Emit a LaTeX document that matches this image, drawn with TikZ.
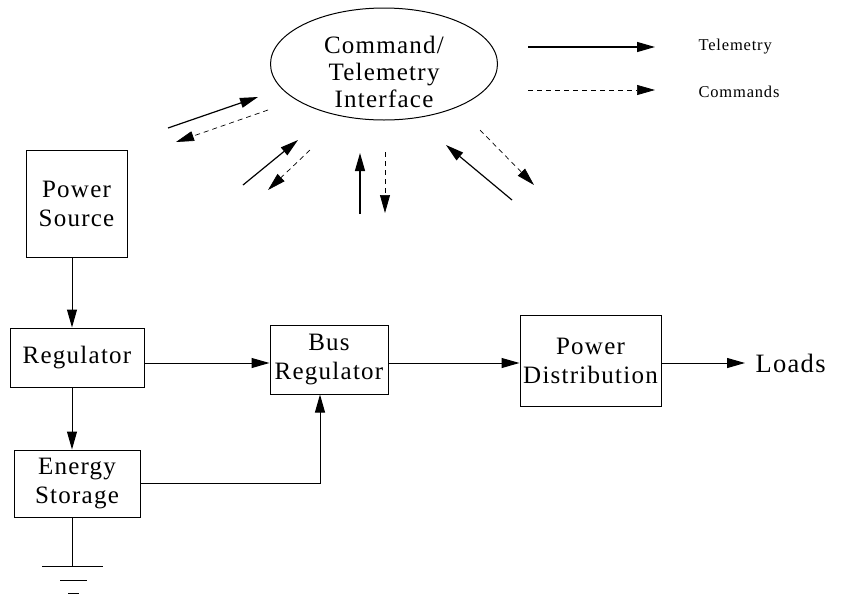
\documentclass[tikz,border=0pt]{standalone}
\usepackage{fontspec}
\setmainfont[LetterSpace=5]{Liberation Serif}
\usetikzlibrary{arrows.meta,shapes.geometric}
\begin{document}
\begin{tikzpicture}[x=1pt,y=-1pt,
  blk/.style={draw,line width=1pt,align=center,inner sep=0pt,font=\fontsize{25}{29}\selectfont},
  tip/.style={-{Triangle[length=18pt,width=10pt]}},
  tele/.style={tip,line width=1.2pt},
  cmd/.style={tip,line width=0.7pt,dash pattern=on 5pt off 4pt},
  wire/.style={line width=1pt}]
\useasboundingbox (0,0) rectangle (865,595);

% command / telemetry interface
\node[draw,ellipse,line width=1pt,minimum width=227pt,minimum height=112pt] (cti) at (384,64) {};
\node[align=center,font=\fontsize{25}{27}\selectfont] (ctitext) at (384,72) {Command/\\Telemetry\\Interface};

% legend
\coordinate (la1) at (528,47);  \coordinate (lb1) at (655,47);
\coordinate (la2) at (528,90);  \coordinate (lb2) at (655,90);
\draw[tele] (la1) -- (lb1);
\draw[cmd]  (la2) -- (lb2);
\node[anchor=west,font=\fontsize{16.5}{18}\selectfont] (ltele) at (695,47) {Telemetry};
\node[anchor=west,font=\fontsize{16.5}{18}\selectfont] (lcmd)  at (695,92) {Commands};

% telemetry/command links around the interface
\coordinate (s1a) at (168,128); \coordinate (s1b) at (258,97);
\coordinate (d1a) at (268,110); \coordinate (d1b) at (176,142);
\coordinate (s2a) at (243,185); \coordinate (s2b) at (298,140);
\coordinate (d2a) at (310,150); \coordinate (d2b) at (268,190);
\coordinate (s3a) at (360,214); \coordinate (s3b) at (360,153);
\coordinate (d3a) at (385,152); \coordinate (d3b) at (385,213);
\coordinate (s4a) at (512,200); \coordinate (s4b) at (446,145);
\coordinate (d4a) at (480,130); \coordinate (d4b) at (534,185);
\draw[tele] (s1a) -- (s1b);  \draw[cmd] (d1a) -- (d1b);
\draw[tele] (s2a) -- (s2b);  \draw[cmd] (d2a) -- (d2b);
\draw[tele] (s3a) -- (s3b);  \draw[cmd] (d3a) -- (d3b);
\draw[tele] (s4a) -- (s4b);  \draw[cmd] (d4a) -- (d4b);

% power chain blocks
\node[blk,minimum width=101pt,minimum height=107pt] (src) at (76.5,203.5) {Power\\Source};
\node[blk,minimum width=134pt,minimum height=59pt]  (reg) at (77,357.5) {Regulator};
\node[blk,minimum width=126pt,minimum height=67pt]  (sto) at (77,483.5) {Energy\\Storage};
\node[blk,minimum width=118pt,minimum height=69pt]  (bus) at (329,359.5) {Bus\\Regulator};
\node[blk,minimum width=141pt,minimum height=91pt]  (dist) at (590.5,360.5) {Power\\Distribution};
\node[anchor=west,font=\fontsize{26.5}{29}\selectfont] (loads) at (752,363) {Loads};

\draw[wire,tip] (src.south -| 72,0) -- (reg.north -| 72,0);
\draw[wire,tip] (reg.south -| 72,0) -- (sto.north -| 72,0);
\draw[wire,tip] (reg.east |- 0,363) -- (bus.west |- 0,363);
\draw[wire,tip] (bus.east |- 0,363) -- (dist.west |- 0,363);
\draw[wire,tip,shorten >=7pt] (dist.east |- 0,363) -- (loads.west);
\draw[wire,tip] (sto.east |- 0,483) -- (320,483) -- (bus.south -| 320,0);

% ground
\coordinate (gnd) at (72,566);
\draw[wire] (sto.south -| 72,0) -- (gnd);
\draw[wire] (42,566) -- (103,566);
\draw[wire] (60,580) -- (87,580);
\draw[wire] (68,593) -- (79,593);
\end{tikzpicture}
\end{document}
